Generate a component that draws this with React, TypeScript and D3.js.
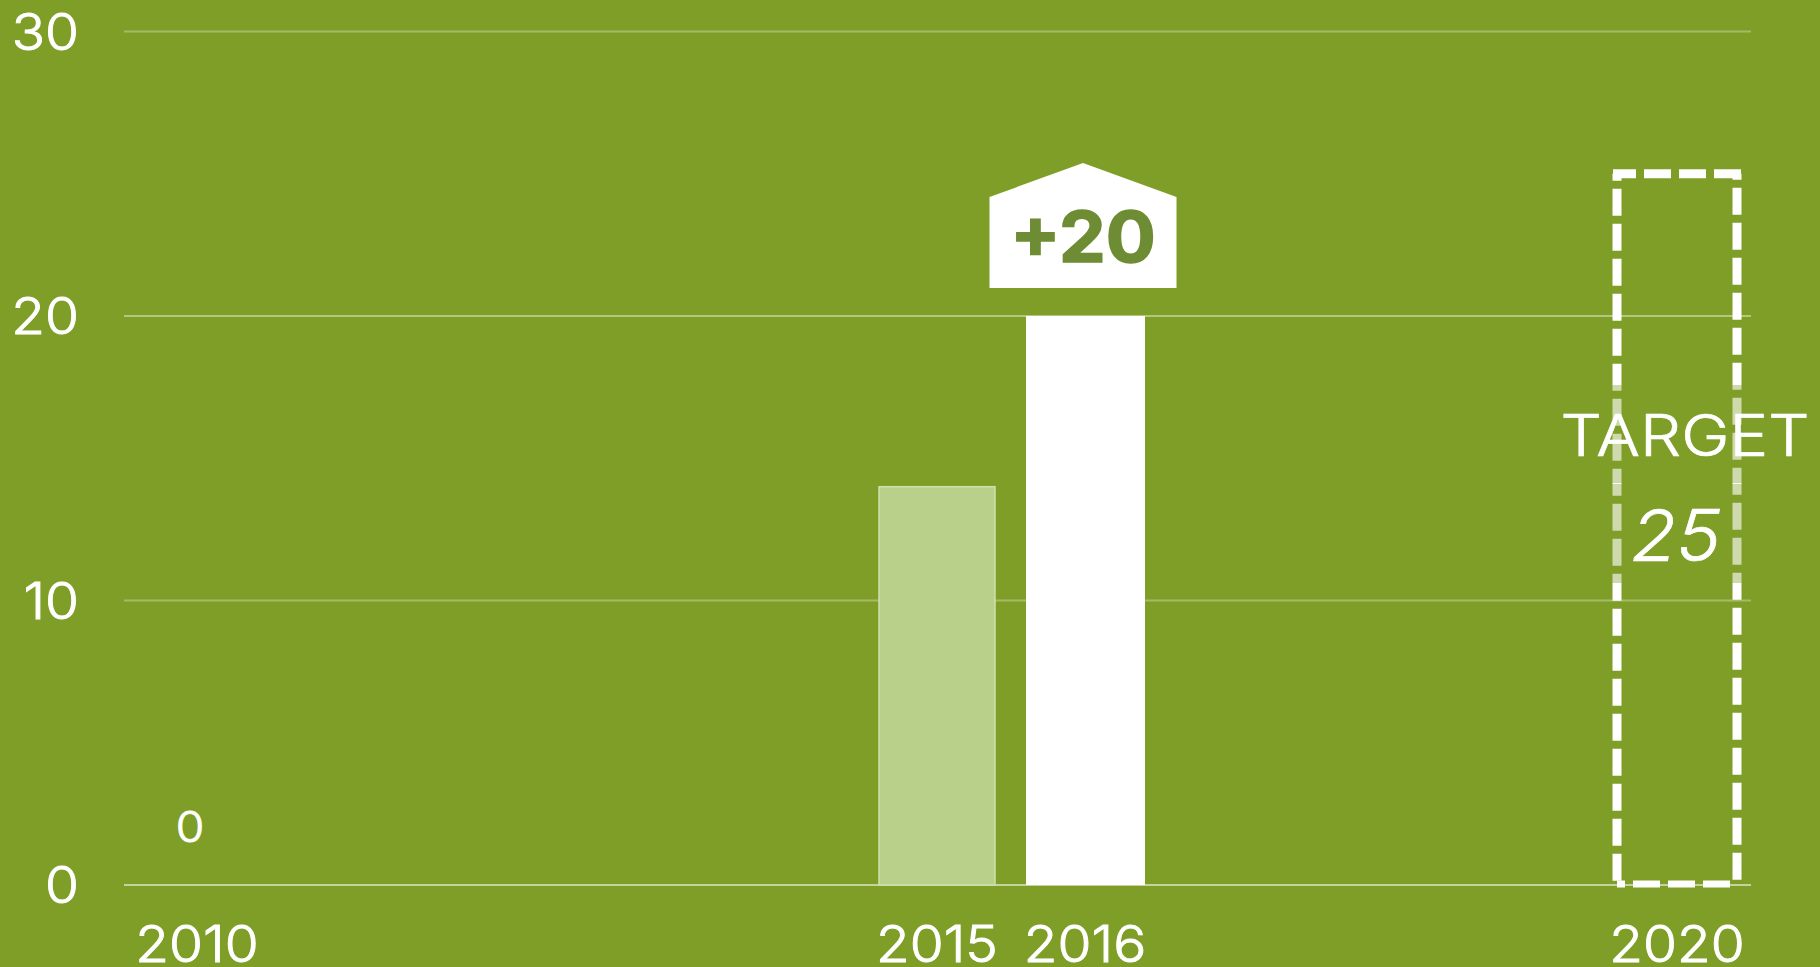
import React from "react";
import * as d3 from "d3";

const yTicks = [0, 10, 20, 30];
const years = [2010, 2015, 2016, 2020];
const value2010 = 0;
const value2015 = 14;
const value2016 = 20;
const target2020 = 25;
const changeLabel = "+20";

const BG = "#7f9e27";
const FONT = "Inter, 'Open Sans', sans-serif";

const y = d3.scaleLinear().domain([0, 30]).range([885, 31.5]);
const x = d3.scaleLinear().domain([2010, 2020]).range([197, 1677]);
const BAR = 118;

function Label({ px, py, sx = 1.1, anchor = "middle", size = 50, weight = 300, fill = "#fff", italic = false, bold = 0.9, children }: any) {
  return (
    <text
      transform={`translate(${px},${py}) scale(${sx},1)`}
      textAnchor={anchor}
      fill={fill}
      stroke={fill}
      strokeWidth={bold}
      fontSize={size}
      fontWeight={weight}
      fontStyle={italic ? "italic" : "normal"}
    >
      {children}
    </text>
  );
}

export default function App() {
  const x15 = x(2015);
  const x16 = x(2016);
  const x20 = x(2020);
  const tLeft = x20 - 60;
  const tRight = x20 + 60;
  const tTop = y(target2020);
  const tBottom = y(0) - 1;
  const cx = x16 - 2;
  const house = d3.line()([
    [cx - 93.5, 288],
    [cx - 93.5, 197],
    [cx, 163],
    [cx + 93.5, 197],
    [cx + 93.5, 288],
  ]) + "Z";
  const dashStyle = {
    fill: "none",
    stroke: "#fff",
    strokeWidth: 9,
    strokeDasharray: "27 8",
  };
  return (
    <svg
      width={1820}
      height={967}
      style={{ position: "fixed", left: 0, top: 0, display: "block" }}
      fontFamily={FONT}
    >
      <rect width={1820} height={967} fill={BG} />
      {yTicks.map((t) => (
        <g key={t}>
          <line
            x1={124}
            x2={1751}
            y1={y(t)}
            y2={y(t)}
            stroke="#fff"
            strokeOpacity={t === 0 ? 0.55 : t === 20 ? 0.42 : 0.3}
            strokeWidth={2}
          />
          <Label px={79} py={y(t) + 18} anchor="end">
            {t}
          </Label>
        </g>
      ))}
      {years.map((yr) => (
        <Label key={yr} px={x(yr)} py={962}>
          {yr}
        </Label>
      ))}
      <Label px={x(2010) - 7} py={y(value2010) - 43} size={42}>
        {value2010}
      </Label>
      <rect
        x={x15 - BAR / 2 + 1}
        y={y(value2015)}
        width={BAR - 2}
        height={y(0) - y(value2015)}
        fill="#b9d08a"
        stroke="#cfe0ad"
        strokeWidth={1.5}
      />
      <rect
        x={x16 - BAR / 2}
        y={y(value2016)}
        width={BAR + 1}
        height={y(0) - y(value2016)}
        fill="#fff"
      />
      <path d={house} fill="#fff" />
      <Label px={cx} py={262} size={70} weight={700} sx={1.06} fill="#6e8c33" bold={1.5}>
        {changeLabel}
      </Label>
      <line {...dashStyle} x1={tLeft - 4} x2={tRight + 4} y1={tTop} y2={tTop} strokeDashoffset={4} />
      <line {...dashStyle} x1={tLeft} x2={tLeft} y1={tTop} y2={tBottom} strokeDashoffset={20} />
      <line {...dashStyle} x1={tRight} x2={tRight} y1={tTop} y2={tBottom} strokeDashoffset={21} />
      <line {...dashStyle} x1={tLeft} x2={tRight} y1={tBottom} y2={tBottom} strokeDashoffset={19} strokeWidth={7} />
      <rect x={1570} y={385} width={230} height={98} fill={BG} fillOpacity={0.38} />
      <rect x={1570} y={484} width={230} height={99} fill={BG} fillOpacity={0.38} />
      <Label px={1685} py={456} size={58} sx={1.12} bold={0.7}>
        TARGET
      </Label>
      <Label px={1676} py={561} size={71} sx={1.05} bold={0.7} italic>
        {target2020}
      </Label>
    </svg>
  );
}
